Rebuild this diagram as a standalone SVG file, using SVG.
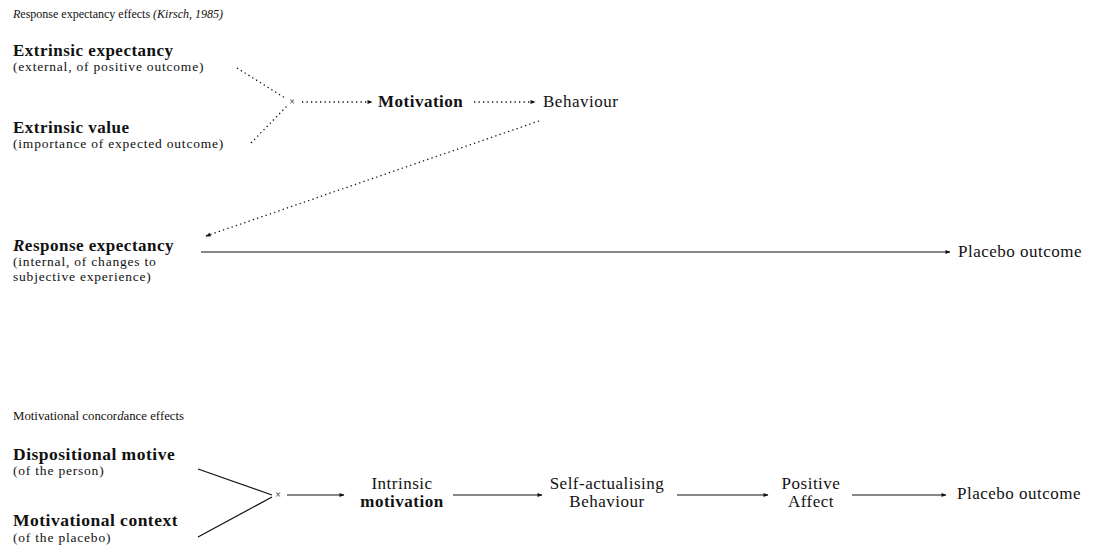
<svg xmlns="http://www.w3.org/2000/svg" width="1097" height="559" viewBox="0 0 1097 559">
  <style>
    text { font-family: "Liberation Serif", "DejaVu Serif", serif; fill: #111; }
    .title { font-size: 12px; }
    .title2 { font-size: 12.8px; }
    .lbl { font-size: 17px; letter-spacing: 0.5px; }
    .big { font-size: 17.5px; }
    .b { font-weight: bold; }
    .sub { font-size: 13.5px; letter-spacing: 0.8px; }
    .mid { text-anchor: middle; }
    .dot { stroke: #111; stroke-width: 1.3; stroke-dasharray: 1.3 3.2; fill: none; }
    .solid { stroke: #111; stroke-width: 1.2; fill: none; }
    .x { font-size: 10px; }
  </style>
  <defs>
    <marker id="ah" viewBox="0 0 10 10" refX="9" refY="5" markerWidth="7" markerHeight="5" markerUnits="userSpaceOnUse" orient="auto">
      <path d="M0,1 L10,5 L0,9 z" fill="#111"/>
    </marker>
  </defs>

  <!-- Response expectancy section -->
  <text class="title" x="13" y="18"><tspan font-style="italic">R</tspan>esponse expectancy effects <tspan font-style="italic">(Kirsch, 1985)</tspan></text>

  <g id="extrinsic-expectancy">
    <text class="lbl b" x="13" y="56">Extrinsic expectancy</text>
    <text class="sub" x="13" y="71">(external, of positive outcome)</text>
  </g>
  <g id="extrinsic-value">
    <text class="lbl b" x="13" y="133">Extrinsic value</text>
    <text class="sub" x="13" y="148">(importance of expected outcome)</text>
  </g>
  <g id="product-1">
    <text class="x mid" x="292" y="105">×</text>
  </g>
  <g id="motivation">
    <text class="lbl b" x="378" y="107">Motivation</text>
  </g>
  <g id="behaviour">
    <text class="lbl" x="543" y="107">Behaviour</text>
  </g>
  <g id="response-expectancy">
    <text class="lbl b" x="13" y="251"><tspan font-style="italic">R</tspan>esponse expectancy</text>
    <text class="sub" x="13" y="266">(internal, of changes to</text>
    <text class="sub" x="13" y="281">subjective experience)</text>
  </g>
  <g id="placebo-outcome-1">
    <text class="lbl" x="958" y="257">Placebo outcome</text>
  </g>

  <!-- Motivational concordance section -->
  <text class="title2" x="13" y="420">Motivational concor<tspan font-style="italic">d</tspan>ance effects</text>

  <g id="dispositional-motive">
    <text class="lbl big b" x="13" y="460">Dispositional motive</text>
    <text class="sub" x="13" y="475">(of the person)</text>
  </g>
  <g id="motivational-context">
    <text class="lbl big b" x="13" y="526">Motivational context</text>
    <text class="sub" x="13" y="542">(of the placebo)</text>
  </g>
  <g id="product-2">
    <text class="x mid" x="278" y="498">×</text>
  </g>
  <g id="intrinsic-motivation">
    <text class="lbl mid" x="402" y="489">Intrinsic</text>
    <text class="lbl mid b" x="402" y="507">motivation</text>
  </g>
  <g id="self-actualising-behaviour">
    <text class="lbl mid" x="607" y="489">Self-actualising</text>
    <text class="lbl mid" x="607" y="507">Behaviour</text>
  </g>
  <g id="positive-affect">
    <text class="lbl mid" x="811" y="489">Positive</text>
    <text class="lbl mid" x="811" y="507">Affect</text>
  </g>
  <g id="placebo-outcome-2">
    <text class="lbl" x="957" y="499">Placebo outcome</text>
  </g>

  <g id="connectors">
    <line class="dot" x1="237" y1="68" x2="285" y2="98"/>
    <line class="dot" x1="251" y1="143" x2="287" y2="106"/>
    <line class="dot" x1="302" y1="102" x2="372" y2="102" marker-end="url(#ah)"/>
    <line class="dot" x1="474" y1="102" x2="535" y2="102" marker-end="url(#ah)"/>
    <line class="dot" x1="539" y1="121" x2="206" y2="236" marker-end="url(#ah)"/>
    <line class="solid" x1="201" y1="252" x2="950" y2="252" marker-end="url(#ah)"/>

    <line class="solid" x1="198" y1="469" x2="272" y2="495"/>
    <line class="solid" x1="198" y1="537" x2="272" y2="497"/>
    <line class="solid" x1="287" y1="495" x2="344" y2="495" marker-end="url(#ah)"/>
    <line class="solid" x1="453" y1="495" x2="542" y2="495" marker-end="url(#ah)"/>
    <line class="solid" x1="677" y1="495" x2="768" y2="495" marker-end="url(#ah)"/>
    <line class="solid" x1="852" y1="495" x2="946" y2="495" marker-end="url(#ah)"/>
  </g>
</svg>
